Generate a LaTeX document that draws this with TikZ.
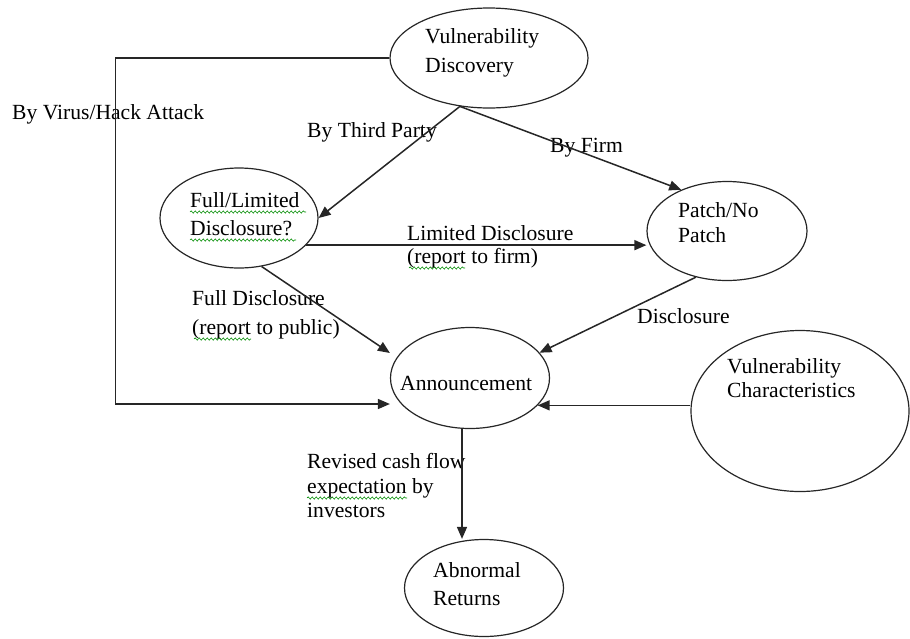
\documentclass[tikz,border=0pt]{standalone}
\usepackage{fontspec}
\setmainfont{Liberation Serif}
\usetikzlibrary{shapes.geometric,arrows.meta,calc,decorations.pathmorphing}
\begin{document}
\begin{tikzpicture}[x=1pt,y=-1pt,
  ell/.style={draw=black!85, line width=1.2pt, ellipse, inner sep=0pt},
  txt/.style={anchor=base west, inner sep=0pt, font=\fontsize{21.6}{24}\selectfont, text=black},
  arr/.style={draw=black!85, line width=1.5pt, -{Triangle[length=12pt,width=10pt]}},
  squig/.style={draw=green!55!black, line width=0.6pt, decorate, decoration={snake, segment length=4pt, amplitude=1.1pt}}
]
\useasboundingbox (0,0) rectangle (910,638);
% ellipses
\node[ell, minimum width=198pt, minimum height=100pt] (vd) at (489,58) {};
\node[ell, minimum width=158pt, minimum height=100pt] (fl) at (239,218) {};
\node[ell, minimum width=160pt, minimum height=99pt] (pn) at (727,231) {};
\node[ell, minimum width=159pt, minimum height=101pt] (an) at (470,378) {};
\node[ell, minimum width=218pt, minimum height=161pt] (vc) at (800,411) {};
\node[ell, minimum width=159pt, minimum height=97pt] (ab) at (484,588) {};
% texts inside ellipses
\node[txt] (vd1) at (425,43) {Vulnerability};
\node[txt] (vd2) at (425,72) {Discovery};
\node[txt] (fl1) at (190,207) {Full/Limited};
\node[txt] (fl2) at (190,235) {Disclosure?};
\node[txt] (pn1) at (678,217) {Patch/No};
\node[txt] (pn2) at (678,242) {Patch};
\node[txt] (an1) at (400,390) {Announcement};
\node[txt] (vc1) at (727,373) {Vulnerability};
\node[txt] (vc2) at (727,397) {Characteristics};
\node[txt] (ab1) at (433,577) {Abnormal};
\node[txt] (ab2) at (433,605) {Returns};
% labels
\node[txt] (l1) at (12,119) {By Virus/Hack Attack};
\node[txt] (l2) at (307,137) {By Third Party};
\node[txt] (l3) at (550,152) {By Firm};
\node[txt] (l4) at (407,240) {Limited Disclosure};
\node[txt] (l5) at (407,263) {(report to firm)};
\node[txt] (l6) at (192,305) {Full Disclosure};
\node[txt] (l7) at (192,334) {(report to public)};
\node[txt] (l8) at (637,323) {Disclosure};
\node[txt] (l9) at (307,468) {Revised cash flow};
\node[txt] (l10) at (307,493) {expectation by};
\node[txt] (l11) at (307,517) {investors};
% spell-check underlines
\draw[squig] (fl1.base west) ++(0,5) -- ++(116,0);
\draw[squig] (fl2.base west) ++(0,5) -- ++(106,0);
\draw[squig] (l5.base west) ++(2,5) -- ++(56,0);
\draw[squig] (l7.base west) ++(2,5) -- ++(57,0);
\draw[squig] (l10.base west) ++(0,5) -- ++(100,0);
% connectors
\draw[arr] (vd.west) -- ++(-274,0) |- ($(an.west)+(0,26)$);
\draw[arr] (vd.239) -- (fl.east);
\draw[arr] (vd.239) -- (pn.138);
\draw[arr] (fl.-22) -- (fl.-22 -| pn.west);
\draw[arr] (fl.-65) -- ($(an.west)+(0,-25)$);
\draw[arr] (pn.236) -- (an.20);
\draw[arr] (vc.west |- an.-22.5) -- (an.-22.5);
\coordinate (anS) at ($(an.south)+(-8,0)$);
\draw[arr] (anS) -- (anS |- ab.north);
\end{tikzpicture}
\end{document}
